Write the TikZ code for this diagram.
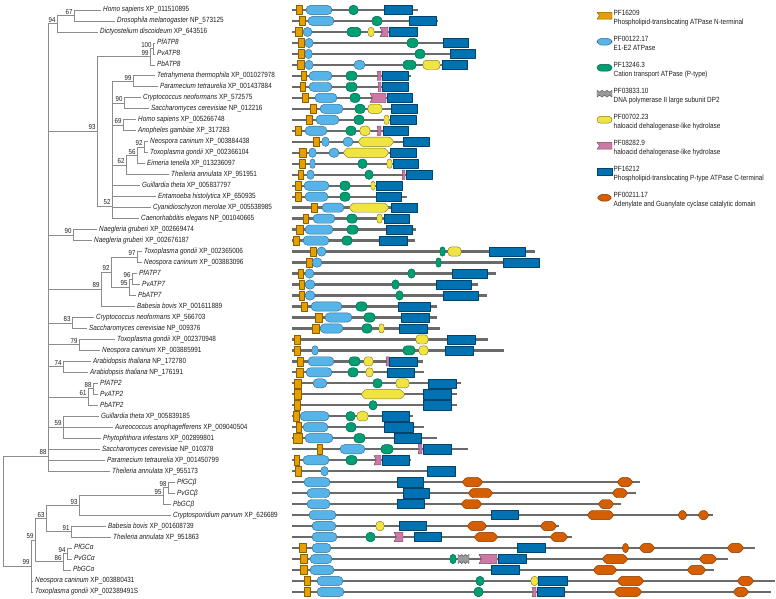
\documentclass[tikz,border=0pt]{standalone}
\usepackage{fontspec}
\setmainfont{Liberation Sans}[FakeStretch=0.85]
\definecolor{cO}{HTML}{E69F00}
\definecolor{cB}{HTML}{56B4E9}
\definecolor{cG}{HTML}{009E73}
\definecolor{cY}{HTML}{F0E442}
\definecolor{cP}{HTML}{CC79A7}
\definecolor{cD}{HTML}{0072B2}
\definecolor{cR}{HTML}{D55E00}
\definecolor{cX}{HTML}{9A9A9A}
\definecolor{treegray}{HTML}{8C8C8C}
\definecolor{bbgray}{HTML}{6A6A6A}
\definecolor{txt}{HTML}{1E1E1E}
\newcommand\dhh{4.6}
\newcommand\mkrow[3]{\pgfmathsetmacro\yy{10+10.98*#1}\draw[bb] (292,\yy) -- (#2,\yy); #3}
\newcommand\DmO[2]{\draw[dom,fill=cO,draw=cO!60!black] (#1,\yy-\dhh) rectangle (#2,\yy+\dhh);}
\newcommand\DmD[2]{\draw[dom,fill=cD,draw=cD!60!black] (#1,\yy-\dhh) rectangle (#2,\yy+\dhh);}
\newcommand\DmB[2]{\pgfmathsetmacro\rr{min(4.5,0.49*(#2-#1))}\draw[dom,fill=cB,draw=cB!60!black,rounded corners=\rr pt] (#1,\yy-\dhh) rectangle (#2,\yy+\dhh);}
\newcommand\DmG[2]{\pgfmathsetmacro\rr{min(3.8,0.49*(#2-#1))}\draw[dom,fill=cG,draw=cG!60!black,rounded corners=\rr pt] (#1,\yy-\dhh) rectangle (#2,\yy+\dhh);}
\newcommand\DmY[2]{\pgfmathsetmacro\rr{min(3.4,0.49*(#2-#1))}\draw[dom,fill=cY,draw=cY!55!black,rounded corners=\rr pt] (#1,\yy-\dhh) rectangle (#2,\yy+\dhh);}
\newcommand\DmH[2]{\draw[dom,fill=cY,draw=cY!55!black,rounded corners=1pt] (#1,\yy) -- (#1+4,\yy-\dhh) -- (#2-4,\yy-\dhh) -- (#2,\yy) -- (#2-4,\yy+\dhh) -- (#1+4,\yy+\dhh) -- cycle;}
\newcommand\DmR[2]{\pgfmathsetmacro\kk{min(4,0.3*(#2-#1))}\draw[dom,fill=cR,draw=cR!60!black,rounded corners=1.2pt] (#1,\yy) -- (#1+\kk,\yy-\dhh) -- (#2-\kk,\yy-\dhh) -- (#2,\yy) -- (#2-\kk,\yy+\dhh) -- (#1+\kk,\yy+\dhh) -- cycle;}
\newcommand\DmP[2]{\pgfmathsetmacro\kk{min(2.5,0.3*(#2-#1))}\draw[dom,fill=cP,draw=cP!60!black] (#1,\yy-\dhh) -- (#2,\yy-\dhh) -- (#2,\yy+\dhh) -- (#1,\yy+\dhh) -- (#1+\kk,\yy) -- cycle;}
\newcommand\DmQ[2]{\pgfmathsetmacro\kk{min(2.5,0.3*(#2-#1))}\draw[dom,fill=cO,draw=cO!60!black] (#1,\yy-\dhh) -- (#2,\yy-\dhh) -- (#2,\yy+\dhh) -- (#1,\yy+\dhh) -- (#1+\kk,\yy) -- cycle;}
\newcommand\DmX[2]{\pgfmathsetmacro\ww{(#2-#1)/6}\draw[dom,fill=cX,draw=cX!60!black] (#1,\yy-\dhh) -- ++(\ww,1.8) -- ++(\ww,-1.8) -- ++(\ww,1.8) -- ++(\ww,-1.8) -- ++(\ww,1.8) -- ++(\ww,-1.8) -- (#2,\yy+\dhh) -- ++(-\ww,-1.8) -- ++(-\ww,1.8) -- ++(-\ww,-1.8) -- ++(-\ww,1.8) -- ++(-\ww,-1.8) -- ++(-\ww,1.8) -- cycle;}
\newcommand\mknode[4]{\coordinate (#1) at (#2,{10+10.98*(#3)}); \node[bs] at (#1) {#4};}
\newcommand\mkleaf[4]{\node[leaf] (L#1) at (#2-2.5,{10+10.98*#1}) {#4}; \draw[br] (#3) |- (L#1.west);}
\tikzset{
  br/.style={draw=treegray, line width=0.8pt},
  leaf/.style={anchor=west, inner xsep=2.5pt, inner ysep=0pt, text height=5.4pt, text depth=1.5pt, font=\fontsize{7.5}{8}\selectfont, text=txt},
  legt/.style={anchor=west, inner sep=0pt, text height=5.4pt, text depth=1.5pt, font=\fontsize{7.5}{8}\selectfont, text=txt},
  bs/.style={anchor=south east, inner sep=0.3pt, xshift=-1pt, yshift=0.8pt, font=\fontsize{7.2}{8}\selectfont, text=txt},
  bb/.style={draw=bbgray, line width=2.3pt},
  dom/.style={line width=0.45pt, line join=round},
}
\begin{document}
\begin{tikzpicture}[x=1pt,y=-1pt]
\useasboundingbox (0,0) rectangle (776,598);
% ---------------- tree: internal nodes
\mknode{N67}{74}{0.5}{67}
\mknode{N94}{57}{1.25}{94}
\mknode{N100}{153}{3.5}{100}
\mknode{N99a}{150}{4.25}{99}
\mknode{N99b}{133}{6.5}{99}
\mknode{N90a}{124}{8.5}{90}
\mknode{N69}{123}{10.5}{69}
\mknode{N92a}{144}{12.5}{92}
\mknode{N56}{137}{13.25}{56}
\mknode{N62}{126}{14.125}{62}
\mknode{N52}{112}{17.85}{52}
\mknode{N93}{97}{11.05}{93}
\mknode{N90b}{73}{20.5}{90}
\mknode{N97}{137}{22.5}{97}
\mknode{N96}{132}{24.5}{96}
\mknode{N95a}{129}{25.25}{95}
\mknode{N92b}{111}{23.875}{92}
\mknode{N89}{101}{25.44}{89}
\mknode{N83}{72}{28.5}{83}
\mknode{N79}{79}{30.5}{79}
\mknode{N74}{63}{32.5}{74}
\mknode{N88b}{93}{34.5}{88}
\mknode{N61}{88}{35.25}{61}
\mknode{N59b}{63}{38}{59}
\mknode{N88}{48}{40.62}{88}
\mknode{N98}{168}{43.5}{98}
\mknode{N95b}{163}{44.25}{95}
\mknode{N93b}{79}{45.125}{93}
\mknode{N91}{71}{47.5}{91}
\mknode{N63}{46}{46.31}{63}
\mknode{N94b}{67}{49.5}{94}
\mknode{N86}{63}{50.25}{86}
\mknode{N59}{35}{48.28}{59}
\mknode{N99c}{31}{50.64}{99}
\coordinate (Rt) at (3,{10+10.98*45.6});
\foreach \p/\c in {Rt/N88,Rt/N99c,N88/N94,N88/N93,N88/N90b,N88/N89,N88/N83,N88/N79,N88/N74,N88/N61,N88/N59b,
  N94/N67,N93/N99a,N93/N52,N99a/N100,N52/N99b,N52/N90a,N52/N69,N52/N62,N62/N56,N56/N92a,
  N89/N92b,N92b/N97,N92b/N95a,N95a/N96,N61/N88b,N99c/N59,N59/N63,N59/N86,N63/N93b,N63/N91,N93b/N95b,N95b/N98,N86/N94b}
  {\draw[br] (\p) |- (\c);}
% ---------------- leaves
\mkleaf{0}{103}{N67}{\textit{Homo sapiens} XP\_011510895}
\mkleaf{1}{117}{N67}{\textit{Drosophila melanogaster} NP\_573125}
\mkleaf{2}{100}{N94}{\textit{Dictyostelium discoideum} XP\_643516}
\mkleaf{3}{157}{N100}{\textit{PfATP8}}
\mkleaf{4}{157}{N100}{\textit{PvATP8}}
\mkleaf{5}{157}{N99a}{\textit{PbATP8}}
\mkleaf{6}{157}{N99b}{\textit{Tetrahymena thermophila} XP\_001027978}
\mkleaf{7}{160}{N99b}{\textit{Paramecium tetraurelia} XP\_001437884}
\mkleaf{8}{143}{N90a}{\textit{Cryptococcus neoformans} XP\_572575}
\mkleaf{9}{151}{N90a}{\textit{Saccharomyces cerevisiae} NP\_012216}
\mkleaf{10}{138}{N69}{\textit{Homo sapiens} XP\_005266748}
\mkleaf{11}{138}{N69}{\textit{Anopheles gambiae} XP\_317283}
\mkleaf{12}{150}{N92a}{\textit{Neospora caninum} XP\_003884438}
\mkleaf{13}{150}{N92a}{\textit{Toxoplasma gondii} XP\_002366104}
\mkleaf{14}{147}{N56}{\textit{Eimeria tenella} XP\_013236097}
\mkleaf{15}{171}{N62}{\textit{Theileria annulata} XP\_951951}
\mkleaf{16}{142}{N52}{\textit{Guillardia theta} XP\_005837797}
\mkleaf{17}{158}{N52}{\textit{Entamoeba histolytica} XP\_650935}
\mkleaf{18}{153}{N52}{\textit{Cyanidioschyzon merolae} XP\_005538985}
\mkleaf{19}{141}{N52}{\textit{Caenorhabditis elegans} NP\_001040665}
\mkleaf{20}{99}{N90b}{\textit{Naegleria gruberi} XP\_002669474}
\mkleaf{21}{94}{N90b}{\textit{Naegleria gruberi} XP\_002676187}
\mkleaf{22}{144}{N97}{\textit{Toxoplasma gondii} XP\_002365006}
\mkleaf{23}{144}{N97}{\textit{Neospora caninum} XP\_003883096}
\mkleaf{24}{139}{N96}{\textit{PfATP7}}
\mkleaf{25}{142}{N96}{\textit{PvATP7}}
\mkleaf{26}{138}{N95a}{\textit{PbATP7}}
\mkleaf{27}{137}{N89}{\textit{Babesia bovis} XP\_001611889}
\mkleaf{28}{96}{N83}{\textit{Cryptococcus neoformans} XP\_566703}
\mkleaf{29}{89}{N83}{\textit{Saccharomyces cerevisiae} NP\_009376}
\mkleaf{30}{117}{N79}{\textit{Toxoplasma gondii} XP\_002370948}
\mkleaf{31}{102}{N79}{\textit{Neospora caninum} XP\_003885991}
\mkleaf{32}{93}{N74}{\textit{Arabidopsis thaliana} NP\_172780}
\mkleaf{33}{90}{N74}{\textit{Arabidopsis thaliana} NP\_176191}
\mkleaf{34}{100}{N88b}{\textit{PfATP2}}
\mkleaf{35}{100}{N88b}{\textit{PvATP2}}
\mkleaf{36}{100}{N61}{\textit{PbATP2}}
\mkleaf{37}{101}{N59b}{\textit{Guillardia theta} XP\_005839185}
\mkleaf{38}{115}{N59b}{\textit{Aureococcus anophagefferens} XP\_009040504}
\mkleaf{39}{103}{N59b}{\textit{Phytophthora infestans} XP\_002899801}
\mkleaf{40}{102}{N88}{\textit{Saccharomyces cerevisiae} NP\_010378}
\mkleaf{41}{107}{N88}{\textit{Paramecium tetraurelia} XP\_001450799}
\mkleaf{42}{112}{N88}{\textit{Theileria annulata} XP\_955173}
\mkleaf{43}{177}{N98}{\textit{PfGCβ}}
\mkleaf{44}{177}{N98}{\textit{PvGCβ}}
\mkleaf{45}{173}{N95b}{\textit{PbGCβ}}
\mkleaf{46}{173}{N93b}{\textit{Cryptosporidium parvum} XP\_626689}
\mkleaf{47}{108}{N91}{\textit{Babesia bovis} XP\_001608739}
\mkleaf{48}{113}{N91}{\textit{Theileria annulata} XP\_951863}
\mkleaf{49}{74}{N94b}{\textit{PfGCα}}
\mkleaf{50}{74}{N94b}{\textit{PvGCα}}
\mkleaf{51}{73}{N86}{\textit{PbGCα}}
\mkleaf{52}{35}{N99c}{\textit{Neospora caninum} XP\_003880431}
\mkleaf{53}{35}{N99c}{\textit{Toxoplasma gondii} XP\_002389491S}
% ---------------- domain architectures
\mkrow{0}{418}{\DmO{296}{302}\DmB{306}{332}\DmG{349}{358}\DmD{384}{412}}
\mkrow{1}{438}{\DmO{299}{305}\DmB{308}{334}\DmG{372}{382}\DmD{409}{436}}
\mkrow{2}{418}{\DmO{295}{302}\DmB{303}{312}\DmG{347}{361}\DmY{368}{374}\DmP{380}{388}\DmD{389}{417}}
\mkrow{3}{468}{\DmO{298}{304}\DmB{305}{313}\DmG{407}{418}\DmD{443}{468}}
\mkrow{4}{475}{\DmO{298}{304}\DmB{305}{312}\DmG{415}{425}\DmD{450}{475}}
\mkrow{5}{467}{\DmO{297}{304}\DmB{305}{313}\DmB{354}{365}\DmG{403}{416}\DmY{423}{440}\DmD{442}{467}}
\mkrow{6}{411}{\DmO{301}{306}\DmB{309}{332}\DmG{346}{357}\DmP{377}{381}\DmD{382}{408}}
\mkrow{7}{408}{\DmO{300}{305}\DmB{309}{332}\DmG{346}{357}\DmP{378}{381}\DmD{382}{408}}
\mkrow{8}{412}{\DmO{302}{308}\DmB{315}{337}\DmG{350}{360}\DmP{370}{386}\DmD{387}{412}}
\mkrow{9}{417}{\DmO{310}{316}\DmB{320}{343}\DmG{355}{365}\DmY{368}{382}\DmD{391}{417}}
\mkrow{10}{416}{\DmO{306}{312}\DmB{316}{339}\DmG{354}{364}\DmY{384}{389}\DmD{390}{416}}
\mkrow{11}{408}{\DmO{295}{301}\DmB{305}{327}\DmG{346}{356}\DmY{360}{370}\DmP{377}{381}\DmD{383}{408}}
\mkrow{12}{429}{\DmO{313}{319}\DmB{322}{329}\DmB{343}{353}\DmH{358}{394}\DmD{403}{429}}
\mkrow{13}{416}{\DmO{299}{306}\DmB{309}{316}\DmB{329}{339}\DmH{343}{389}\DmD{390}{416}}
\mkrow{14}{418}{\DmO{299}{305}\DmB{310}{315}\DmG{358}{367}\DmY{387}{392}\DmD{393}{418}}
\mkrow{15}{432}{\DmO{298}{303}\DmB{307}{314}\DmG{365}{373}\DmP{402}{405}\DmD{406}{432}}
\mkrow{16}{402}{\DmO{295}{301}\DmB{304}{329}\DmG{340}{350}\DmY{371}{375}\DmD{376}{402}}
\mkrow{17}{407}{\DmO{295}{301}\DmB{305}{328}\DmG{340}{350}\DmD{376}{401}}
\mkrow{18}{418}{\DmO{311}{317}\DmB{322}{344}\DmH{349}{389}\DmD{391}{417}}
\mkrow{19}{409}{\DmO{303}{308}\DmB{313}{335}\DmG{347}{357}\DmY{377}{382}\DmD{384}{409}}
\mkrow{20}{416}{\DmO{296}{303}\DmB{305}{333}\DmG{347}{358}\DmD{386}{412}}
\mkrow{21}{415}{\DmO{293}{299}\DmB{303}{329}\DmG{342}{352}\DmD{379}{407}}
\mkrow{22}{535}{\DmO{310}{316}\DmB{317}{326}\DmG{440}{445}\DmY{448}{461}\DmD{489}{525}}
\mkrow{23}{540}{\DmO{306}{312}\DmB{312}{322}\DmG{436}{441}\DmD{503}{539}}
\mkrow{24}{496}{\DmO{298}{303}\DmB{305}{314}\DmG{408}{415}\DmD{452}{487}}
\mkrow{25}{478}{\DmO{299}{304}\DmB{305}{315}\DmG{392}{399}\DmD{436}{471}}
\mkrow{26}{487}{\DmO{299}{304}\DmB{305}{315}\DmG{396}{403}\DmD{443}{478}}
\mkrow{27}{437}{\DmO{301}{307}\DmB{311}{342}\DmG{356}{367}\DmD{398}{430}}
\mkrow{28}{437}{\DmO{315}{322}\DmB{325}{352}\DmG{364}{375}\DmD{401}{429}}
\mkrow{29}{440}{\DmO{312}{319}\DmB{320}{343}\DmG{362}{372}\DmY{379}{384}\DmD{399}{427}}
\mkrow{30}{488}{\DmO{294}{300}\DmY{416}{428}\DmD{447}{475}}
\mkrow{31}{504}{\DmO{294}{300}\DmB{312}{318}\DmG{403}{415}\DmY{419}{428}\DmD{445}{473}}
\mkrow{32}{423}{\DmO{297}{303}\DmB{308}{334}\DmG{349}{360}\DmY{364}{373}\DmP{386}{389}\DmD{389}{417}}
\mkrow{33}{424}{\DmO{296}{303}\DmB{306}{332}\DmG{348}{358}\DmY{366}{373}\DmD{387}{414}}
\mkrow{34}{461}{\DmO{294}{301}\DmB{313}{327}\DmG{373}{382}\DmY{396}{409}\DmD{428}{456}}
\mkrow{35}{457}{\DmO{294}{301}\DmH{361}{405}\DmD{423}{451}}
\mkrow{36}{457}{\DmO{294}{300}\DmG{369}{377}\DmD{423}{451}}
\mkrow{37}{413}{\DmO{293}{299}\DmB{300}{329}\DmG{346}{355}\DmY{357}{368}\DmD{382}{409}}
\mkrow{38}{424}{\DmO{296}{301}\DmB{303}{328}\DmG{346}{356}\DmD{384}{413}}
\mkrow{39}{437}{\DmO{293}{302}\DmB{305}{333}\DmG{354}{365}\DmD{394}{421}}
\mkrow{40}{468}{\DmO{317}{322}\DmB{340}{365}\DmG{381}{393}\DmP{418}{422}\DmD{423}{451}}
\mkrow{41}{411}{\DmO{294}{299}\DmB{303}{329}\DmG{346}{357}\DmP{374}{381}\DmD{382}{409}}
\mkrow{42}{456}{\DmO{295}{301}\DmB{321}{328}\DmD{427}{455}}
\mkrow{43}{640}{\DmB{304}{330}\DmD{397}{423}\DmR{462}{483}\DmR{617}{633}}
\mkrow{44}{636}{\DmB{307}{330}\DmD{403}{429}\DmR{468}{493}\DmR{612}{628}}
\mkrow{45}{621}{\DmB{307}{330}\DmD{397}{424}\DmR{461}{482}\DmR{598}{614}}
\mkrow{46}{713}{\DmB{309}{336}\DmD{491}{518}\DmR{587}{614}\DmR{678}{687}\DmR{698}{709}}
\mkrow{47}{559}{\DmB{312}{336}\DmY{376}{384}\DmD{399}{426}\DmR{467}{487}\DmR{540}{557}}
\mkrow{48}{572}{\DmB{312}{337}\DmG{366}{375}\DmP{394}{403}\DmD{414}{441}\DmR{474}{498}\DmR{550}{568}}
\mkrow{49}{755}{\DmO{299}{306}\DmB{312}{331}\DmD{517}{545}\DmR{622}{629}\DmR{639}{655}\DmR{727}{744}}
\mkrow{50}{728}{\DmO{300}{307}\DmB{310}{332}\DmG{450}{456}\DmX{458}{469}\DmP{479}{497}\DmD{498}{526}\DmR{602}{628}\DmR{699}{717}}
\mkrow{51}{714}{\DmO{300}{307}\DmB{310}{334}\DmD{491}{519}\DmR{593}{617}\DmR{687}{706}}
\mkrow{52}{775}{\DmO{304}{310}\DmB{317}{343}\DmG{476}{484}\DmY{531}{538}\DmD{538}{567}\DmR{617}{644}\DmR{737}{754}}
\mkrow{53}{771}{\DmO{304}{310}\DmB{317}{344}\DmG{474}{483}\DmP{532}{536}\DmD{537}{564}\DmR{614}{642}\DmR{733}{749}}
% ---------------- legend
\renewcommand\dhh{3.4}
\foreach \ic/\pid/\pdesc [count=\k from 0] in {
  Q/PF16209/Phospholipid-translocating ATPase N-terminal,
  B/PF00122.17/E1-E2 ATPase,
  G/PF13246.3/Cation transport ATPase (P-type),
  X/PF03833.10/DNA polymerase II large subunit DP2,
  Y/PF00702.23/haloacid dehalogenase-like hydrolase,
  P/PF08282.9/haloacid dehalogenase-like hydrolase,
  D/PF16212/Phospholipid-translocating P-type ATPase C-terminal,
  R/PF00211.17/Adenylate and Guanylate cyclase catalytic domain}
{
  \pgfmathsetmacro\yy{15.7+26*\k}
  \csname Dm\ic\endcsname{597}{612}
  \node[legt] (legid\k) at (613.5,{13.5+26*\k}) {\pid};
  \node[legt] (legde\k) at (613.5,{23+26*\k}) {\pdesc};
}
\end{tikzpicture}
\end{document}
